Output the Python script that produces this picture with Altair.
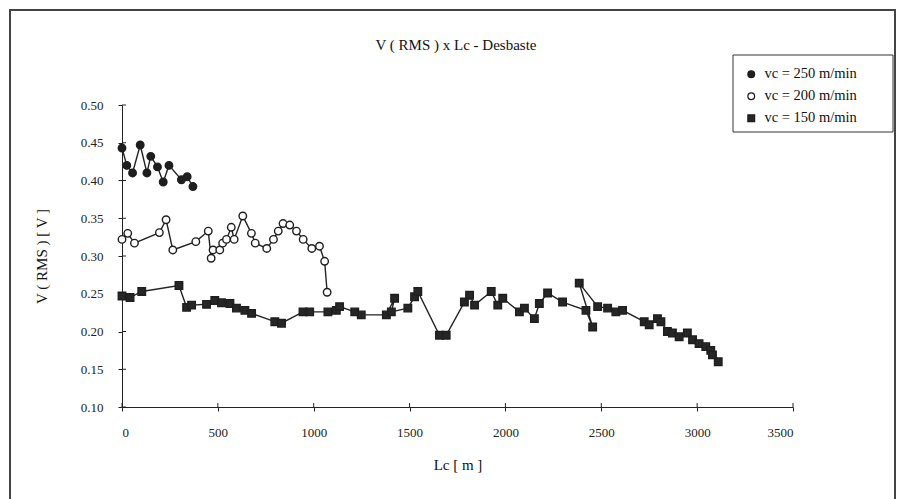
import altair as alt
import pandas as pd

# ---- data ----
lc_250 = [0, 25, 55, 95, 130, 150, 185, 215, 245, 310, 340, 370]
v_250 = [0.443, 0.420, 0.410, 0.447, 0.410, 0.432, 0.418, 0.398, 0.420, 0.401, 0.405, 0.392]

lc_200 = [0, 30, 65, 195, 230, 265, 385, 450, 465, 475, 510, 525, 545, 570, 585, 630,
          675, 695, 755, 790, 815, 840, 875, 910, 945, 990, 1030, 1057, 1070]
v_200 = [0.322, 0.330, 0.317, 0.331, 0.348, 0.308, 0.319, 0.333, 0.297, 0.308, 0.308, 0.317,
         0.322, 0.338, 0.322, 0.353, 0.330, 0.317, 0.310, 0.322, 0.333, 0.343, 0.341, 0.333,
         0.322, 0.310, 0.313, 0.293, 0.252]

lc_150 = [0, 42, 103, 297, 337, 363, 441, 484, 519, 563, 597, 641, 676, 797, 832, 944, 979,
          1074, 1118, 1135, 1214, 1248, 1379, 1422, 1405, 1491, 1526, 1543, 1656, 1691, 1786,
          1813, 1839, 1926, 1960, 1986, 2073, 2099, 2151, 2177, 2220, 2298, 2420, 2455, 2385,
          2481, 2533, 2576, 2611, 2724, 2750, 2793, 2811, 2845, 2871, 2906, 2949, 2976, 3010,
          3045, 3071, 3080, 3110]
v_150 = [0.247, 0.245, 0.253, 0.261, 0.232, 0.235, 0.236, 0.241, 0.238, 0.237, 0.231, 0.228,
         0.224, 0.213, 0.211, 0.226, 0.226, 0.226, 0.228, 0.233, 0.226, 0.222, 0.222, 0.244,
         0.226, 0.231, 0.246, 0.253, 0.195, 0.195, 0.239, 0.248, 0.235, 0.253, 0.235, 0.244,
         0.226, 0.231, 0.217, 0.237, 0.251, 0.239, 0.228, 0.206, 0.264, 0.233, 0.231, 0.226,
         0.228, 0.213, 0.209, 0.217, 0.213, 0.200, 0.198, 0.193, 0.198, 0.189, 0.184, 0.180,
         0.175, 0.169, 0.160]

series_labels = ["vc = 250 m/min", "vc = 200 m/min", "vc = 150 m/min"]
x_ticks = [0, 500, 1000, 1500, 2000, 2500, 3000, 3500]
y_ticks = [0.10, 0.15, 0.20, 0.25, 0.30, 0.35, 0.40, 0.45, 0.50]
chart_title = "V ( RMS ) x Lc - Desbaste"

rows = []
for lab, xs_, ys_ in zip(series_labels, [lc_250, lc_200, lc_150], [v_250, v_200, v_150]):
    for i, (x, y) in enumerate(zip(xs_, ys_)):
        rows.append({"serie": lab, "Lc": x, "V": y, "ordem": i})
df = pd.DataFrame(rows)

FONT = "Liberation Serif"
INK = "#222222"

xs = alt.Scale(domain=[0, 3500], nice=False)
ys = alt.Scale(domain=[0.10, 0.50], nice=False)

x_axis = alt.Axis(values=x_ticks, format="d", title="Lc [ m ]", grid=False,
                  tickSize=4, labelPadding=15, titlePadding=18, labelOverlap=False,
                  domainColor=INK, tickColor=INK)
y_axis = alt.Axis(values=y_ticks, format=".2f", title="V ( RMS ) [ V ]", grid=False,
                  tickSize=4, labelPadding=15, titlePadding=31, labelOverlap=False,
                  domainColor=INK, tickColor=INK)

base = alt.Chart(df)

lines = base.mark_line(color=INK, strokeWidth=1.4).encode(
    x=alt.X("Lc:Q", scale=xs, axis=x_axis),
    y=alt.Y("V:Q", scale=ys, axis=y_axis),
    detail="serie:N",
    order="ordem:Q",
)

legend = alt.Legend(orient="none", legendX=611, legendY=-49, title=None,
                    labelFont=FONT, labelFontSize=14.5, labelColor="#111111",
                    padding=11, rowPadding=7, symbolSize=46, symbolStrokeColor="#222222",
                    symbolStrokeWidth=1.2, labelLimit=200, labelOffset=6)

points = base.mark_point(filled=False, strokeWidth=1.4, opacity=1, size=56).encode(
    x=alt.X("Lc:Q", scale=xs, axis=x_axis),
    y=alt.Y("V:Q", scale=ys, axis=y_axis),
    shape=alt.Shape("serie:N", legend=legend,
                    scale=alt.Scale(domain=series_labels, range=["circle", "circle", "square"])),
    fill=alt.Fill("serie:N", legend=legend,
                  scale=alt.Scale(domain=series_labels, range=["#1e1e1e", "#ffffff", "#262626"])),
    stroke=alt.Stroke("serie:N", legend=legend,
                      scale=alt.Scale(domain=series_labels, range=["#1e1e1e", "#1e1e1e", "#1e1e1e"])),
)

# inner halves of the crossing tick marks
ytick_df = pd.DataFrame({"t": y_ticks})
xtick_df = pd.DataFrame({"t": x_ticks})
yin = alt.Chart(ytick_df).mark_rule(color=INK, strokeWidth=1).encode(
    y=alt.Y("t:Q", scale=ys, axis=y_axis), x=alt.value(0), x2=alt.value(4))
xin = alt.Chart(xtick_df).mark_rule(color=INK, strokeWidth=1).encode(
    x=alt.X("t:Q", scale=xs, axis=x_axis), y=alt.value(298), y2=alt.value(302))

deco = pd.DataFrame({"a": [0]})
frame = alt.Chart(deco).mark_rect(
    fill=None, stroke="#444444", strokeWidth=2
).encode(x=alt.value(-112), x2=alt.value(773), y=alt.value(-95), y2=alt.value(400))

legend_box = alt.Chart(deco).mark_rect(
    fill="#ffffff", stroke="#333333", strokeWidth=1
).encode(x=alt.value(611), x2=alt.value(771), y=alt.value(-50), y2=alt.value(27))

title_mark = alt.Chart(pd.DataFrame({"t": [chart_title]})).mark_text(
    font=FONT, fontSize=15, color="#111111", align="center", baseline="alphabetic"
).encode(text="t:N", x=alt.value(334), y=alt.value(-55))

chart = alt.layer(frame, legend_box, title_mark, yin, xin, lines, points).properties(
    width=671,
    height=302,
    autosize=alt.AutoSizeParams(type="none"),
    padding={"left": 122, "top": 105, "right": 110, "bottom": 92},
).configure_view(
    stroke=None
).configure_axis(
    labelFont=FONT, labelFontSize=13, labelColor="#222222",
    titleFont=FONT, titleFontSize=15, titleFontWeight="normal", titleColor="#111111",
)

chart.save("out.html", embed_options={"renderer": "svg", "actions": False})
